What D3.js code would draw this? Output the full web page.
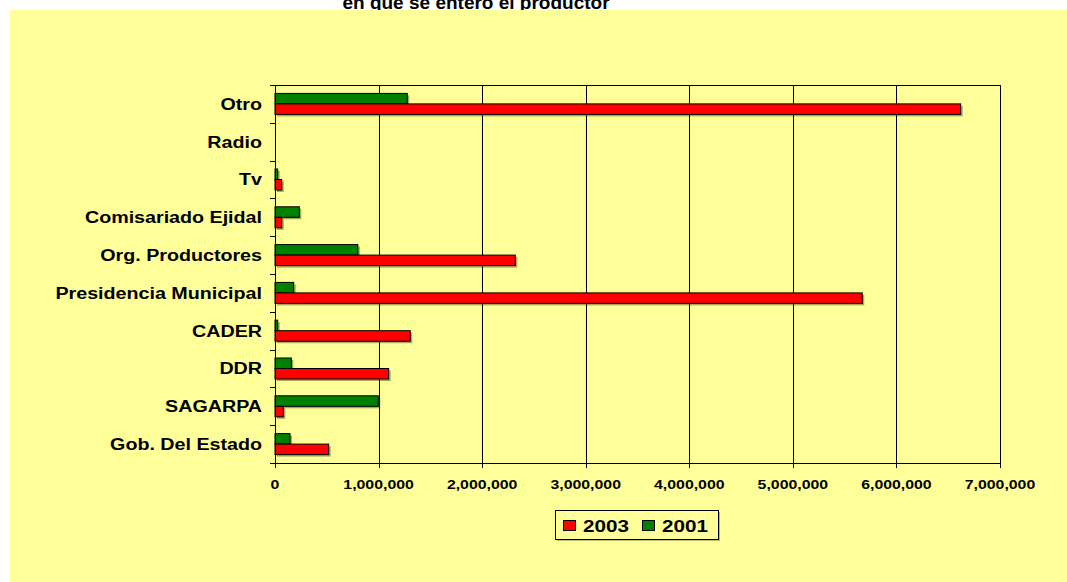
<!DOCTYPE html>
<html>
<head>
<meta charset="utf-8">
<script src="https://cdn.jsdelivr.net/npm/d3@7"></script>
<style>
  html, body { margin: 0; padding: 0; background: #ffffff; }
  svg { display: block; }
  text { font-family: "Liberation Sans", Arial, Helvetica, sans-serif; font-weight: bold; fill: #000; }
</style>
</head>
<body>
<svg id="chart" width="1067" height="582"></svg>
<script>
// Sources through which producers learned about the program (top to bottom)
const categories = [
  "Otro", "Radio", "Tv", "Comisariado Ejidal", "Org. Productores",
  "Presidencia Municipal", "CADER", "DDR", "SAGARPA", "Gob. Del Estado"
];
const values2003 = [6620000, 0, 65000, 65000, 2320000, 5670000, 1306000, 1097000, 80000, 518000];
const values2001 = [1277000, 0, 26000, 235000, 800000, 180000, 26000, 158000, 997000, 145000];
const xTicks = [0, 1000000, 2000000, 3000000, 4000000, 5000000, 6000000, 7000000];
const seriesNames = ["2001", "2003"];      // order of bars inside each band
const legendNames = ["2003", "2001"];
const colors = { "2003": "#ff0000", "2001": "#008000" };
const titleText = "en que se enteró el productor";

const svg = d3.select("#chart");
const W = 1067, H = 582;
const plot = { left: 275, right: 1000, top: 85, bottom: 463 };
const SX = 1.23; // horizontal stretch of the lettering

function stretchedText(sel, x, y, s, anchor, size) {
  return sel.append("text")
    .attr("transform", `translate(${x},${y}) scale(${s},1)`)
    .attr("text-anchor", anchor)
    .style("font-size", size + "px");
}

// Title (second line, running off the top edge behind the panel)
stretchedText(svg, 476, 8.5, 1.0, "middle", 19).text(titleText);

// Chart panel
svg.append("rect")
  .attr("x", 10).attr("y", 10)
  .attr("width", W - 10).attr("height", H - 10)
  .attr("fill", "#ffff99");

const x = d3.scaleLinear().domain([0, 7000000]).range([plot.left, plot.right]);
const y = d3.scaleBand().domain(categories).range([plot.top, plot.bottom]).padding(0);
const ySub = d3.scaleBand().domain(seriesNames).range([0, y.bandwidth()])
  .paddingInner(0).paddingOuter(0.8);

// Vertical gridlines
svg.append("g").selectAll("line")
  .data(xTicks.slice(1))
  .join("line")
  .attr("x1", d => Math.round(x(d)) + 0.5).attr("x2", d => Math.round(x(d)) + 0.5)
  .attr("y1", plot.top).attr("y2", plot.bottom)
  .attr("stroke", "#000").attr("stroke-width", 1);

// Top border of the plot area
svg.append("line")
  .attr("x1", plot.left).attr("x2", plot.right + 1)
  .attr("y1", plot.top + 0.5).attr("y2", plot.top + 0.5)
  .attr("stroke", "#000");

// Bars with a soft drop shadow
const rows = categories.map((c, i) => ({
  cat: c,
  bars: [
    { s: "2001", v: values2001[i] },
    { s: "2003", v: values2003[i] }
  ]
}));

const barG = svg.append("g");
rows.forEach(r => {
  r.bars.filter(b => b.v > 0).forEach(b => {
    const bx = x(0);
    const by = y(r.cat) + ySub(b.s);
    const bw = x(b.v) - x(0);
    const bh = ySub.bandwidth();
    barG.append("rect")
      .attr("x", bx + 2).attr("y", by + 2)
      .attr("width", bw).attr("height", bh)
      .attr("fill", "rgba(60,60,20,0.45)");
    barG.append("rect")
      .attr("x", bx).attr("y", by)
      .attr("width", bw).attr("height", bh)
      .attr("fill", colors[b.s])
      .attr("stroke", "#000").attr("stroke-width", 1);
  });
});

// Bottom (value) axis
const xAxis = svg.append("g").attr("transform", `translate(0,${plot.bottom})`);
xAxis.append("line")
  .attr("x1", plot.left).attr("x2", plot.right + 1)
  .attr("y1", 0.5).attr("y2", 0.5).attr("stroke", "#000");
xAxis.selectAll("line.tick")
  .data(xTicks)
  .join("line").attr("class", "tick")
  .attr("x1", d => Math.round(x(d)) + 0.5).attr("x2", d => Math.round(x(d)) + 0.5)
  .attr("y1", 0).attr("y2", 5).attr("stroke", "#000");
const fmt = d3.format(",");
xTicks.forEach(t => {
  stretchedText(svg, x(t), 488.5, 1.27, "middle", 12.5).text(fmt(t));
});

// Left (category) axis
const yAxis = svg.append("g");
yAxis.append("line")
  .attr("x1", plot.left + 0.5).attr("x2", plot.left + 0.5)
  .attr("y1", plot.top).attr("y2", plot.bottom + 5).attr("stroke", "#000");
const bounds = categories.map(c => y(c)).concat([plot.bottom]);
yAxis.selectAll("line.tick")
  .data(bounds)
  .join("line").attr("class", "tick")
  .attr("x1", plot.left - 5).attr("x2", plot.left)
  .attr("y1", d => Math.round(d) + 0.5).attr("y2", d => Math.round(d) + 0.5)
  .attr("stroke", "#000");
categories.forEach(c => {
  stretchedText(svg, 262, y(c) + y.bandwidth() / 2 + 5.8, SX, "end", 16).text(c);
});

// Legend
const lg = svg.append("g");
lg.append("rect").attr("x", 557).attr("y", 512).attr("width", 163).attr("height", 29)
  .attr("fill", "rgba(60,60,20,0.35)");
lg.append("rect").attr("x", 555.5).attr("y", 510.5).attr("width", 163).attr("height", 29)
  .attr("fill", "#ffff99").attr("stroke", "#000").attr("stroke-width", 1);
const legendX = [563.5, 642.5];
legendNames.forEach((n, i) => {
  lg.append("rect")
    .attr("x", legendX[i]).attr("y", 520.5).attr("width", 12).attr("height", 10)
    .attr("fill", colors[n]).attr("stroke", "#000");
  stretchedText(lg, legendX[i] + 19.5, 531.5, 1.29, "start", 16).text(n);
});
</script>
</body>
</html>
